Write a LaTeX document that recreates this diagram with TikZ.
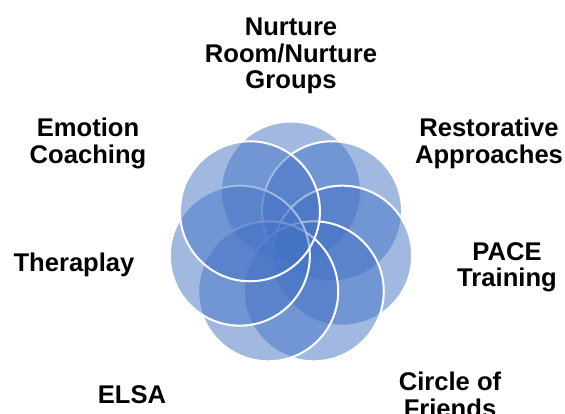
\documentclass[tikz,border=0pt]{standalone}
\usepackage{fontspec}
\setmainfont{Liberation Sans}
\definecolor{accent}{RGB}{68,114,196}
\begin{document}
\begin{tikzpicture}[x=1pt,y=-1pt,
  petal/.style={draw=white, line width=2pt, fill=accent, fill opacity=0.5},
  lbl/.style={anchor=north, inner sep=0pt, align=center, text=black,
    font=\bfseries\fontsize{25.6}{26.5}\selectfont}]
\useasboundingbox (0,0) rectangle (565,414);
\foreach \a/\n in {90/p1, 38.571/p2, -12.857/p3, -64.286/p4, -115.714/p5, -167.143/p6, 141.429/p7}{
  \coordinate (\n) at ({291+52.5*cos(\a)}, {244-52.5*sin(\a)});
  \draw[petal] (\n) circle (70);
}
\node[lbl] (nurture) at (291,18) {Nurture\\Room/Nurture\\Groups};
\node[lbl] (restorative) at (489,118) {Restorative\\Approaches};
\node[lbl] (pace) at (507,242) {PACE\\Training};
\node[lbl] (circle) at (450,372) {Circle of\\Friends};
\node[lbl] (elsa) at (132,385) {ELSA};
\node[lbl] (theraplay) at (74,253) {Theraplay};
\node[lbl] (emotion) at (88,118) {Emotion\\Coaching};
\end{tikzpicture}
\end{document}
